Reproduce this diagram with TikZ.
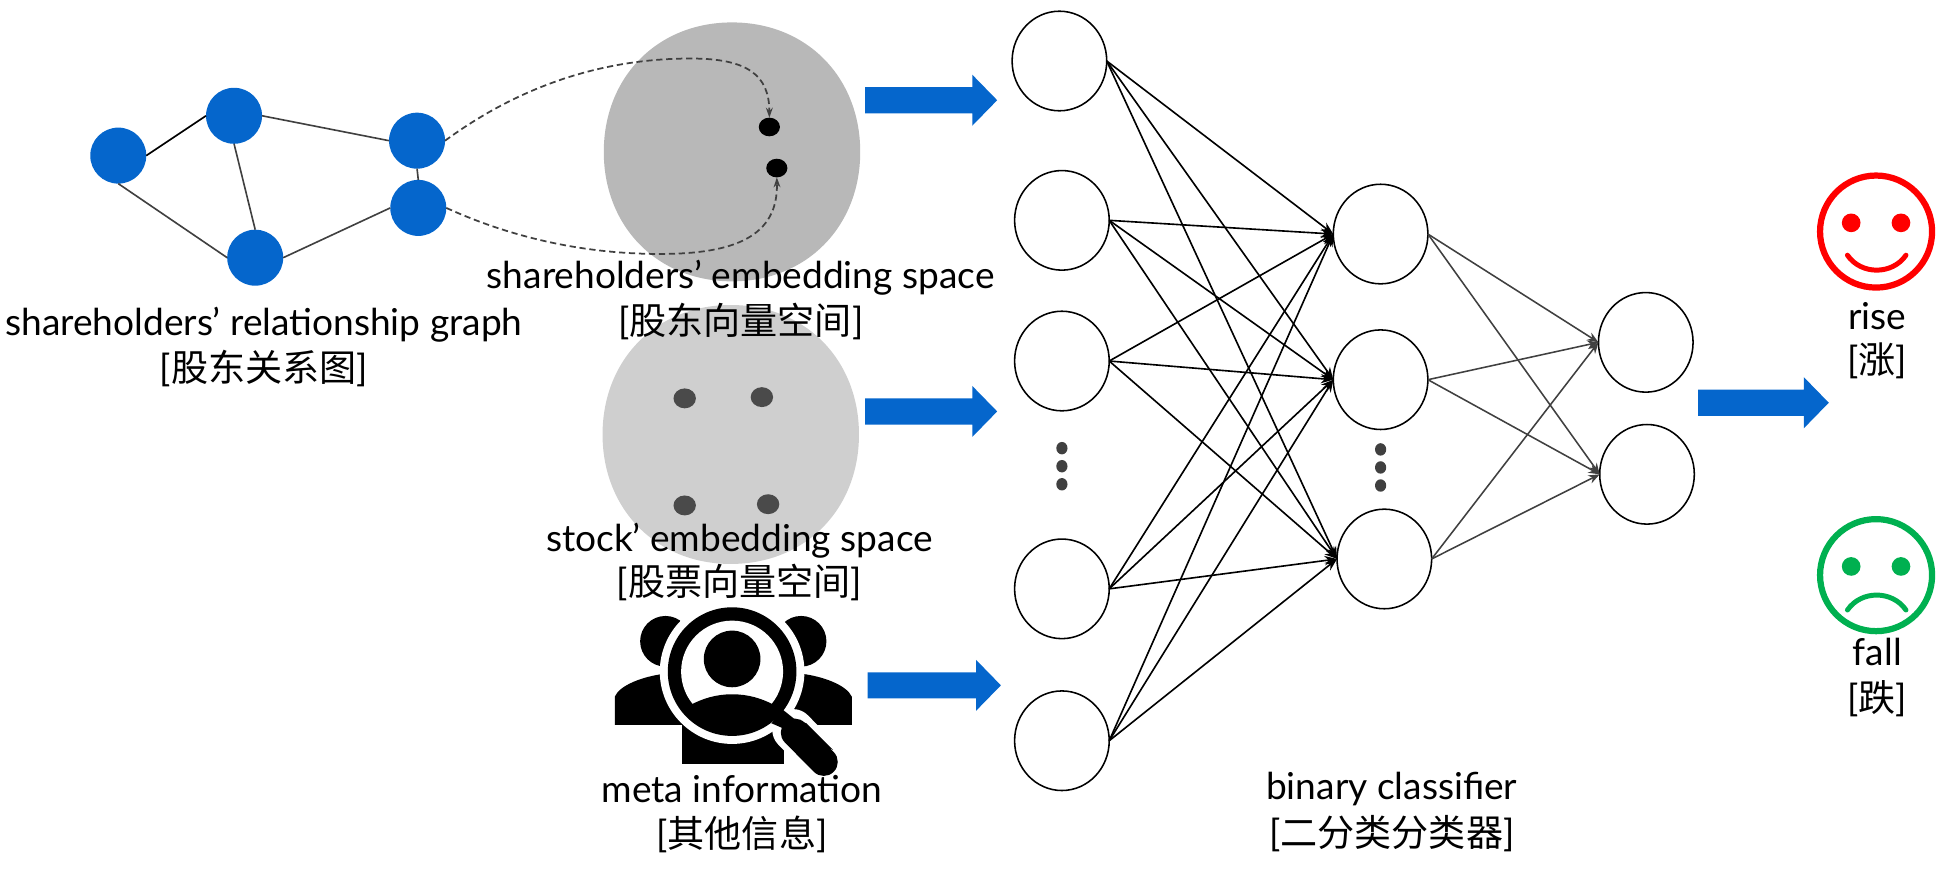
\documentclass[tikz,border=0pt]{standalone}
\usepackage{fontspec}
\setmainfont{Lato}
\newfontfamily\cjk{Noto Sans CJK SC}
\usetikzlibrary{arrows.meta,shapes.geometric}
\definecolor{nnblue}{HTML}{0566CC}
\definecolor{dk}{HTML}{404040}
\definecolor{grnface}{HTML}{00B050}
\tikzset{
  x=1pt,y=-1pt,
  gnode/.style={ellipse,fill=nnblue,minimum width=45,minimum height=45,inner sep=0,outer sep=0},
  gedge/.style={draw=dk,line width=1.3},
  nn/.style={ellipse,draw=black,line width=1.25,minimum width=76,minimum height=80,inner sep=0,outer sep=0,fill=white},
  nedge/.style={draw=black,line width=1.3,-{Stealth[length=10,width=7.5]}},
  medge/.style={draw=dk,line width=1.25,-{Stealth[length=9,width=7]}},
  blk/.style={fill=nnblue},
  lab/.style={inner sep=0,outer sep=0,align=center,font=\fontsize{29.8}{36}\selectfont},
  dotn/.style={ellipse,inner sep=0,outer sep=0,fill=dk,minimum width=9,minimum height=10},
  emb/.style={ellipse,inner sep=0,outer sep=0,minimum width=17,minimum height=15,fill=black},
  emc/.style={ellipse,inner sep=0,outer sep=0,minimum width=18,minimum height=16,fill=dk!95!white},
  dashc/.style={draw=dk,line width=1.4,dash pattern=on 5 off 3,-{Stealth[length=8,width=5.5]}},
}
\newcommand{\blobshape}[3]{% cx cy fill
  \fill[#3] (#1-103,#2) .. controls (#1-103,#2-60) and (#1-60,#2-104) .. (#1,#2-104)
    .. controls (#1+60,#2-104) and (#1+103,#2-60) .. (#1+103,#2)
    .. controls (#1+103,#2+60) and (#1+60,#2+104) .. (#1,#2+104)
    .. controls (#1-60,#2+104) and (#1-103,#2+60) .. (#1-103,#2) -- cycle;}
\newcommand{\bluearrow}[3]{% x0 x1 ymid
  \fill[blk] (#1,#3-10.5) -- (#2-20,#3-10.5) -- (#2-20,#3-20.5) -- (#2,#3) -- (#2-20,#3+20.5) -- (#2-20,#3+10.5) -- (#1,#3+10.5) -- cycle;}
\begin{document}
\begin{tikzpicture}
\useasboundingbox (0,0) rectangle (1568,699);
% embedding spaces
\blobshape{588}{122}{black!28}
\blobshape{587}{349}{black!19}
% graph
\node[gnode] (A) at (95,125) {};
\node[gnode] (B) at (188,93) {};
\node[gnode] (C) at (335,113) {};
\node[gnode] (D) at (336,167) {};
\node[gnode] (E) at (205,207) {};
\draw[draw=black,line width=1.3] (A.east) -- (B.west);
\draw[gedge] (B.east) -- (C.west);
\draw[gedge] (C.south) -- (D.north);
\draw[gedge] (D.west) -- (E.east);
\draw[gedge] (A.south) -- (E.west);
\draw[gedge] (B.south) -- (E.north);
% embedding dots
\node[emb] (p1) at (618,102) {};
\node[emb] (p2) at (624,135) {};
\node[emc] (s1) at (550,320) {};
\node[emc] (s2) at (612,319) {};
\node[emc] (s3) at (550,406) {};
\node[emc] (s4) at (617,405) {};
\coordinate (t1) at (555,47);
\coordinate (t2) at (530,204);
\draw[dashc] (C.east) .. controls (430,60) and (500,47) .. (t1) .. controls (600,47) and (618,60) .. (p1.north);
\draw[dashc] (D.east) .. controls (420,195) and (480,204) .. (t2) .. controls (590,204) and (625,190) .. (p2.south);
% block arrows
\bluearrow{695}{801}{80.5}
\bluearrow{695}{801}{330.5}
\bluearrow{697}{804}{550.5}
\bluearrow{1364}{1469}{323.5}
% meta icon
\begin{scope}[shift={(401.5,345.4)},x=0.2677pt,y=-0.2677pt]
  \fill (497,634) circle [radius=76];
  \fill (904,634) circle [radius=76];
  \fill (345,885) -- (345,800) .. controls (360,765) and (430,740) .. (490,732) -- (560,885) -- cycle;
  \fill (1056,885) -- (1056,800) .. controls (1040,765) and (970,740) .. (910,732) -- (840,885) -- cycle;
  \fill (548,1003) -- (548,880) -- (853,880) -- (853,1003) -- cycle;
  \draw[white,line width=0.2677*125,line cap=round] (880,900) -- (975,998);
  \fill[white] (697,725) circle [radius=217];
  \fill (697,725) circle [radius=193];
  \fill[white] (697,725) circle [radius=153];
  \fill (697,687) circle [radius=85];
  \begin{scope}
    \clip (697,725) circle [radius=170];
    \fill (570,960) -- (570,826) .. controls (610,805) and (650,793) .. (697,793) .. controls (745,793) and (785,805) .. (825,826) -- (825,960) -- cycle;
  \end{scope}
  \fill (850,840) -- (885,868) -- (920,880) -- (1000,960) -- (815,880) -- cycle;
  \draw[line width=0.2677*84,line cap=round] (885,908) -- (972,996);
\end{scope}
% network
\node[nn] (a1) at (851,49) {};
\node[nn] (a2) at (853,177) {};
\node[nn] (a3) at (853,290) {};
\node[nn] (a4) at (853,473) {};
\node[nn] (a5) at (853,595) {};
\node[nn] (b1) at (1109,188) {};
\node[nn] (b2) at (1109,305) {};
\node[nn] (b3) at (1112,449) {};
\node[nn] (c1) at (1322,275) {};
\node[nn] (c2) at (1323,381) {};
\foreach \s in {a1,a2,a3,a4,a5}
  \foreach \t in {b1,b2,b3}
    \draw[nedge] (\s.east) -- (\t.west);
\foreach \s in {b1,b2,b3}
  \foreach \t in {c1,c2}
    \draw[medge] (\s.east) -- (\t.west);
\node[dotn] (d1) at (853,360) {};
\node[dotn] (d2) at (853,374.5) {};
\node[dotn] (d3) at (853,389) {};
\node[dotn] (d4) at (1109,361) {};
\node[dotn] (d5) at (1109,375.5) {};
\node[dotn] (d6) at (1109,390) {};
% faces
\draw[red,line width=5] (1507,186) circle [radius=45];
\fill[red] (1487,179) circle [radius=7.5] (1527,179) circle [radius=7.5];
\draw[red,line width=4,line cap=round] (1484,205) .. controls (1495,221) and (1520,221) .. (1531,205);
\draw[grnface,line width=5] (1507,462) circle [radius=45];
\fill[grnface] (1487,455) circle [radius=7.5] (1527,455) circle [radius=7.5];
\draw[grnface,line width=4,line cap=round] (1484,490) .. controls (1495,474) and (1520,474) .. (1531,490);
% labels
\node[lab] (l1) at (212,261) {shareholders’ relationship graph};
\node[lab] (l2) at (212,296) {[{\cjk 股东关系图}]};
\node[lab] (l3) at (595,223) {shareholders’ embedding space};
\node[lab] (l4) at (595,258) {[{\cjk 股东向量空间}]};
\node[lab] (l5) at (594,434) {stock’ embedding space};
\node[lab] (l6) at (594,468) {[{\cjk 股票向量空间}]};
\node[lab] (l7) at (596,634) {meta information};
\node[lab] (l8) at (596,670) {[{\cjk 其他信息}]};
\node[lab] (l9) at (1118,634) {binary classifier};
\node[lab] (l10) at (1118,670) {[{\cjk 二分类分类器}]};
\node[lab] (l11) at (1508,254) {rise};
\node[lab] (l12) at (1508,290) {[{\cjk 涨}]};
\node[lab] (l13) at (1508,524) {fall};
\node[lab] (l14) at (1508,561) {[{\cjk 跌}]};
\end{tikzpicture}
\end{document}
